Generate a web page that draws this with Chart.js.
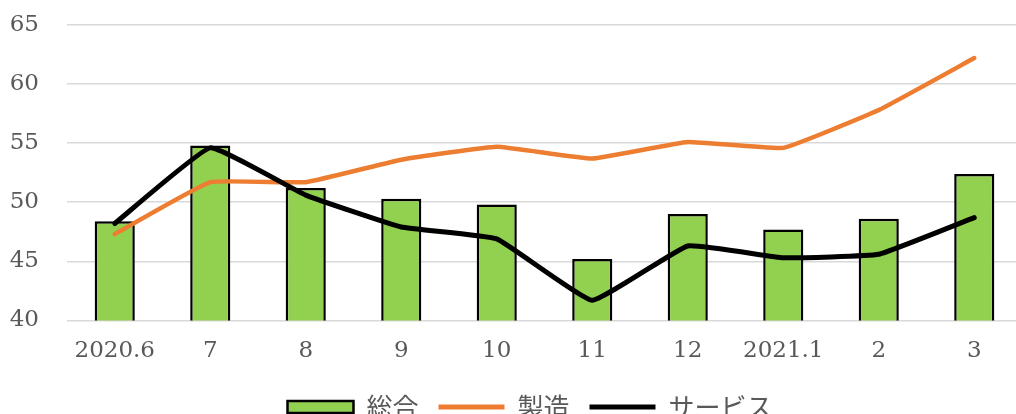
<!DOCTYPE html>
<html>
<head>
<meta charset="utf-8">
<script src="https://cdn.jsdelivr.net/npm/chart.js@4"></script>
<style>
  html, body { margin: 0; padding: 0; background: #fff; overflow: hidden; }
  #wrap { position: relative; width: 1024px; height: 430px; }
</style>
</head>
<body>
<div id="wrap"><canvas id="chart"></canvas></div>
<script>
const months = ['2020.6', '7', '8', '9', '10', '11', '12', '2021.1', '2', '3'];
const sogo = [48.4, 54.8, 51.2, 50.3, 49.8, 45.2, 49.0, 47.7, 48.6, 52.4];
const seizo = [47.3, 51.7, 51.7, 53.6, 54.7, 53.7, 55.1, 54.6, 57.8, 62.2];
const service = [48.2, 54.6, 50.6, 47.9, 46.9, 41.7, 46.3, 45.3, 45.6, 48.7];
const yTicks = [40, 45, 50, 55, 60, 65];

const tickFont = { family: "'DejaVu Serif', serif", size: 23 };

// the legend in the original sits a little right of centre
const legendShift = {
    id: 'legendShift',
    afterLayout(chart) {
        chart.legend.left += 19;
        chart.legend.right += 19;
    }
};

new Chart(document.getElementById('chart'), {
    type: 'bar',
    data: {
        labels: months,
        datasets: [
            {
                label: '総合',
                data: sogo,
                backgroundColor: '#92D050',
                borderColor: '#000000',
                borderWidth: 2.5,
                barPercentage: 0.84,
                categoryPercentage: 0.5,
                order: 3
            },
            {
                type: 'line',
                label: '製造',
                data: seizo,
                borderColor: '#ED7D31',
                backgroundColor: '#ED7D31',
                borderWidth: 4.5,
                pointRadius: 0,
                tension: 0.1,
                borderCapStyle: 'round',
                borderJoinStyle: 'round',
                order: 2
            },
            {
                type: 'line',
                label: 'サービス',
                data: service,
                borderColor: '#000000',
                backgroundColor: '#000000',
                borderWidth: 5,
                pointRadius: 0,
                tension: 0.1,
                borderCapStyle: 'round',
                borderJoinStyle: 'round',
                order: 1
            }
        ]
    },
    plugins: [legendShift],
    options: {
        responsive: true,
        maintainAspectRatio: false,
        animation: false,
        layout: { padding: { left: 0, right: 2, top: 25, bottom: 0 } },
        scales: {
            x: {
                grid: { display: false },
                border: { display: false },
                ticks: { color: '#595959', font: tickFont, padding: 9, maxRotation: 0 },
                afterFit: axis => { axis.paddingLeft = 0; axis.paddingRight = 0; }
            },
            y: {
                min: 40,
                max: 65,
                afterBuildTicks: axis => { axis.ticks = yTicks.map(v => ({ value: v })); },
                afterFit: axis => { axis.width = 67; axis.paddingTop = 0; axis.paddingBottom = 0; },
                grid: { color: '#D9D9D9', lineWidth: 1.5, drawTicks: false },
                border: { display: false },
                ticks: { color: '#595959', font: tickFont, padding: 28 }
            }
        },
        plugins: {
            tooltip: { enabled: false },
            legend: {
                position: 'bottom',
                labels: {
                    color: '#595959',
                    font: { family: "'Noto Sans CJK JP', sans-serif", size: 26 },
                    usePointStyle: true,
                    pointStyleWidth: 66,
                    boxHeight: 12,
                    padding: 20,
                    generateLabels: chart => chart.data.datasets.map((ds, i) => ({
                        text: ds.label,
                        datasetIndex: i,
                        fillStyle: ds.backgroundColor,
                        strokeStyle: ds.type === 'line' ? ds.borderColor : '#000000',
                        lineWidth: ds.type === 'line' ? 5 : 2.5,
                        pointStyle: ds.type === 'line' ? 'line' : 'rect',
                        fontColor: '#595959',
                        hidden: false
                    }))
                }
            }
        }
    }
});
</script>
</body>
</html>
